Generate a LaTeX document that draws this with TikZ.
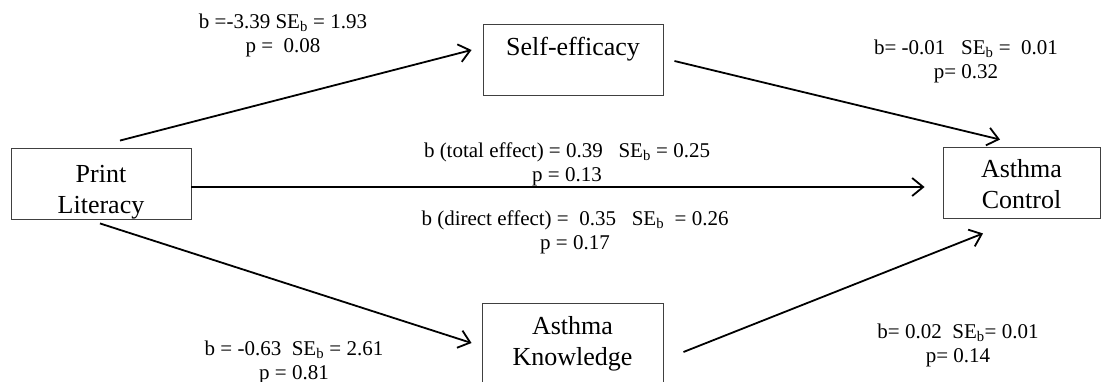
\documentclass[tikz,border=0pt]{standalone}
\usepackage{fontspec}
\setmainfont{Liberation Serif}
\usetikzlibrary{arrows.meta}

\begin{document}
\begin{tikzpicture}[x=1pt, y=-1pt,
    box/.style={draw=black!75, line width=0.9pt, align=center, font=\fontsize{26}{31}\selectfont},
    arr/.style={line width=1.8pt, -{Straight Barb[length=11pt, width=18pt, line width=1.8pt]}},
    est/.style={align=center, font=\fontsize{21}{24}\selectfont}]
    \useasboundingbox (0,0) rectangle (1110,382);

    % Draw boxes
    \node[box, minimum width=180pt, inner ysep=0pt, text height=65.6pt, text depth=5.4pt] (lit) at (101,183.5) {Print\\Literacy};
    \node[box, minimum width=180pt, inner ysep=0pt, text height=32pt, text depth=39pt] (self) at (573,59.5) {Self-efficacy};
    \node[box, minimum width=157pt, inner ysep=0pt, text height=61.6pt, text depth=9.4pt] (ctrl) at (1021.5,182.5) {Asthma\\Control};
    \node[box, minimum width=181pt, minimum height=82pt] (know) at (572.5,344) {Asthma\\Knowledge};

    % Draw paths
    \draw[arr] ([shift={(19,-7)}]lit.north) -- ([shift={(-11,-9.5)}]self.west);
    \draw[arr] ([shift={(11,1.5)}]self.east) -- ([shift={(-21.5,-7)}]ctrl.north);
    \draw[arr] ([shift={(0,3.5)}]lit.east) -- ([shift={(-18,4.5)}]ctrl.west);
    \draw[arr] ([shift={(-1,4)}]lit.south) -- ([shift={(-10,-1)}]know.west);
    \draw[arr] ([shift={(20,8)}]know.east) -- ([shift={(-38.5,15)}]ctrl.south);

    % Estimates
    \node[est] (est-self) at (283,35) {b =-3.39 SE\textsubscript{b} = 1.93\\p =~~0.08};
    \node[est] (est-ctrl-self) at (966,61.5) {b=~-0.01~~~SE\textsubscript{b} =~~0.01\\p=~0.32};
    \node[est] (est-total) at (567,164.5) {b (total effect) = 0.39~~~SE\textsubscript{b} = 0.25\\p = 0.13};
    \node[est] (est-direct) at (575,232) {b (direct effect) =~~0.35~~~SE\textsubscript{b}~~= 0.26\\p = 0.17};
    \node[est] (est-know) at (294,362) {b = -0.63~~SE\textsubscript{b} = 2.61\\p = 0.81};
    \node[est] (est-ctrl-know) at (958,345) {b=~0.02~~SE\textsubscript{b}=~0.01\\p=~0.14};
\end{tikzpicture}
\end{document}
